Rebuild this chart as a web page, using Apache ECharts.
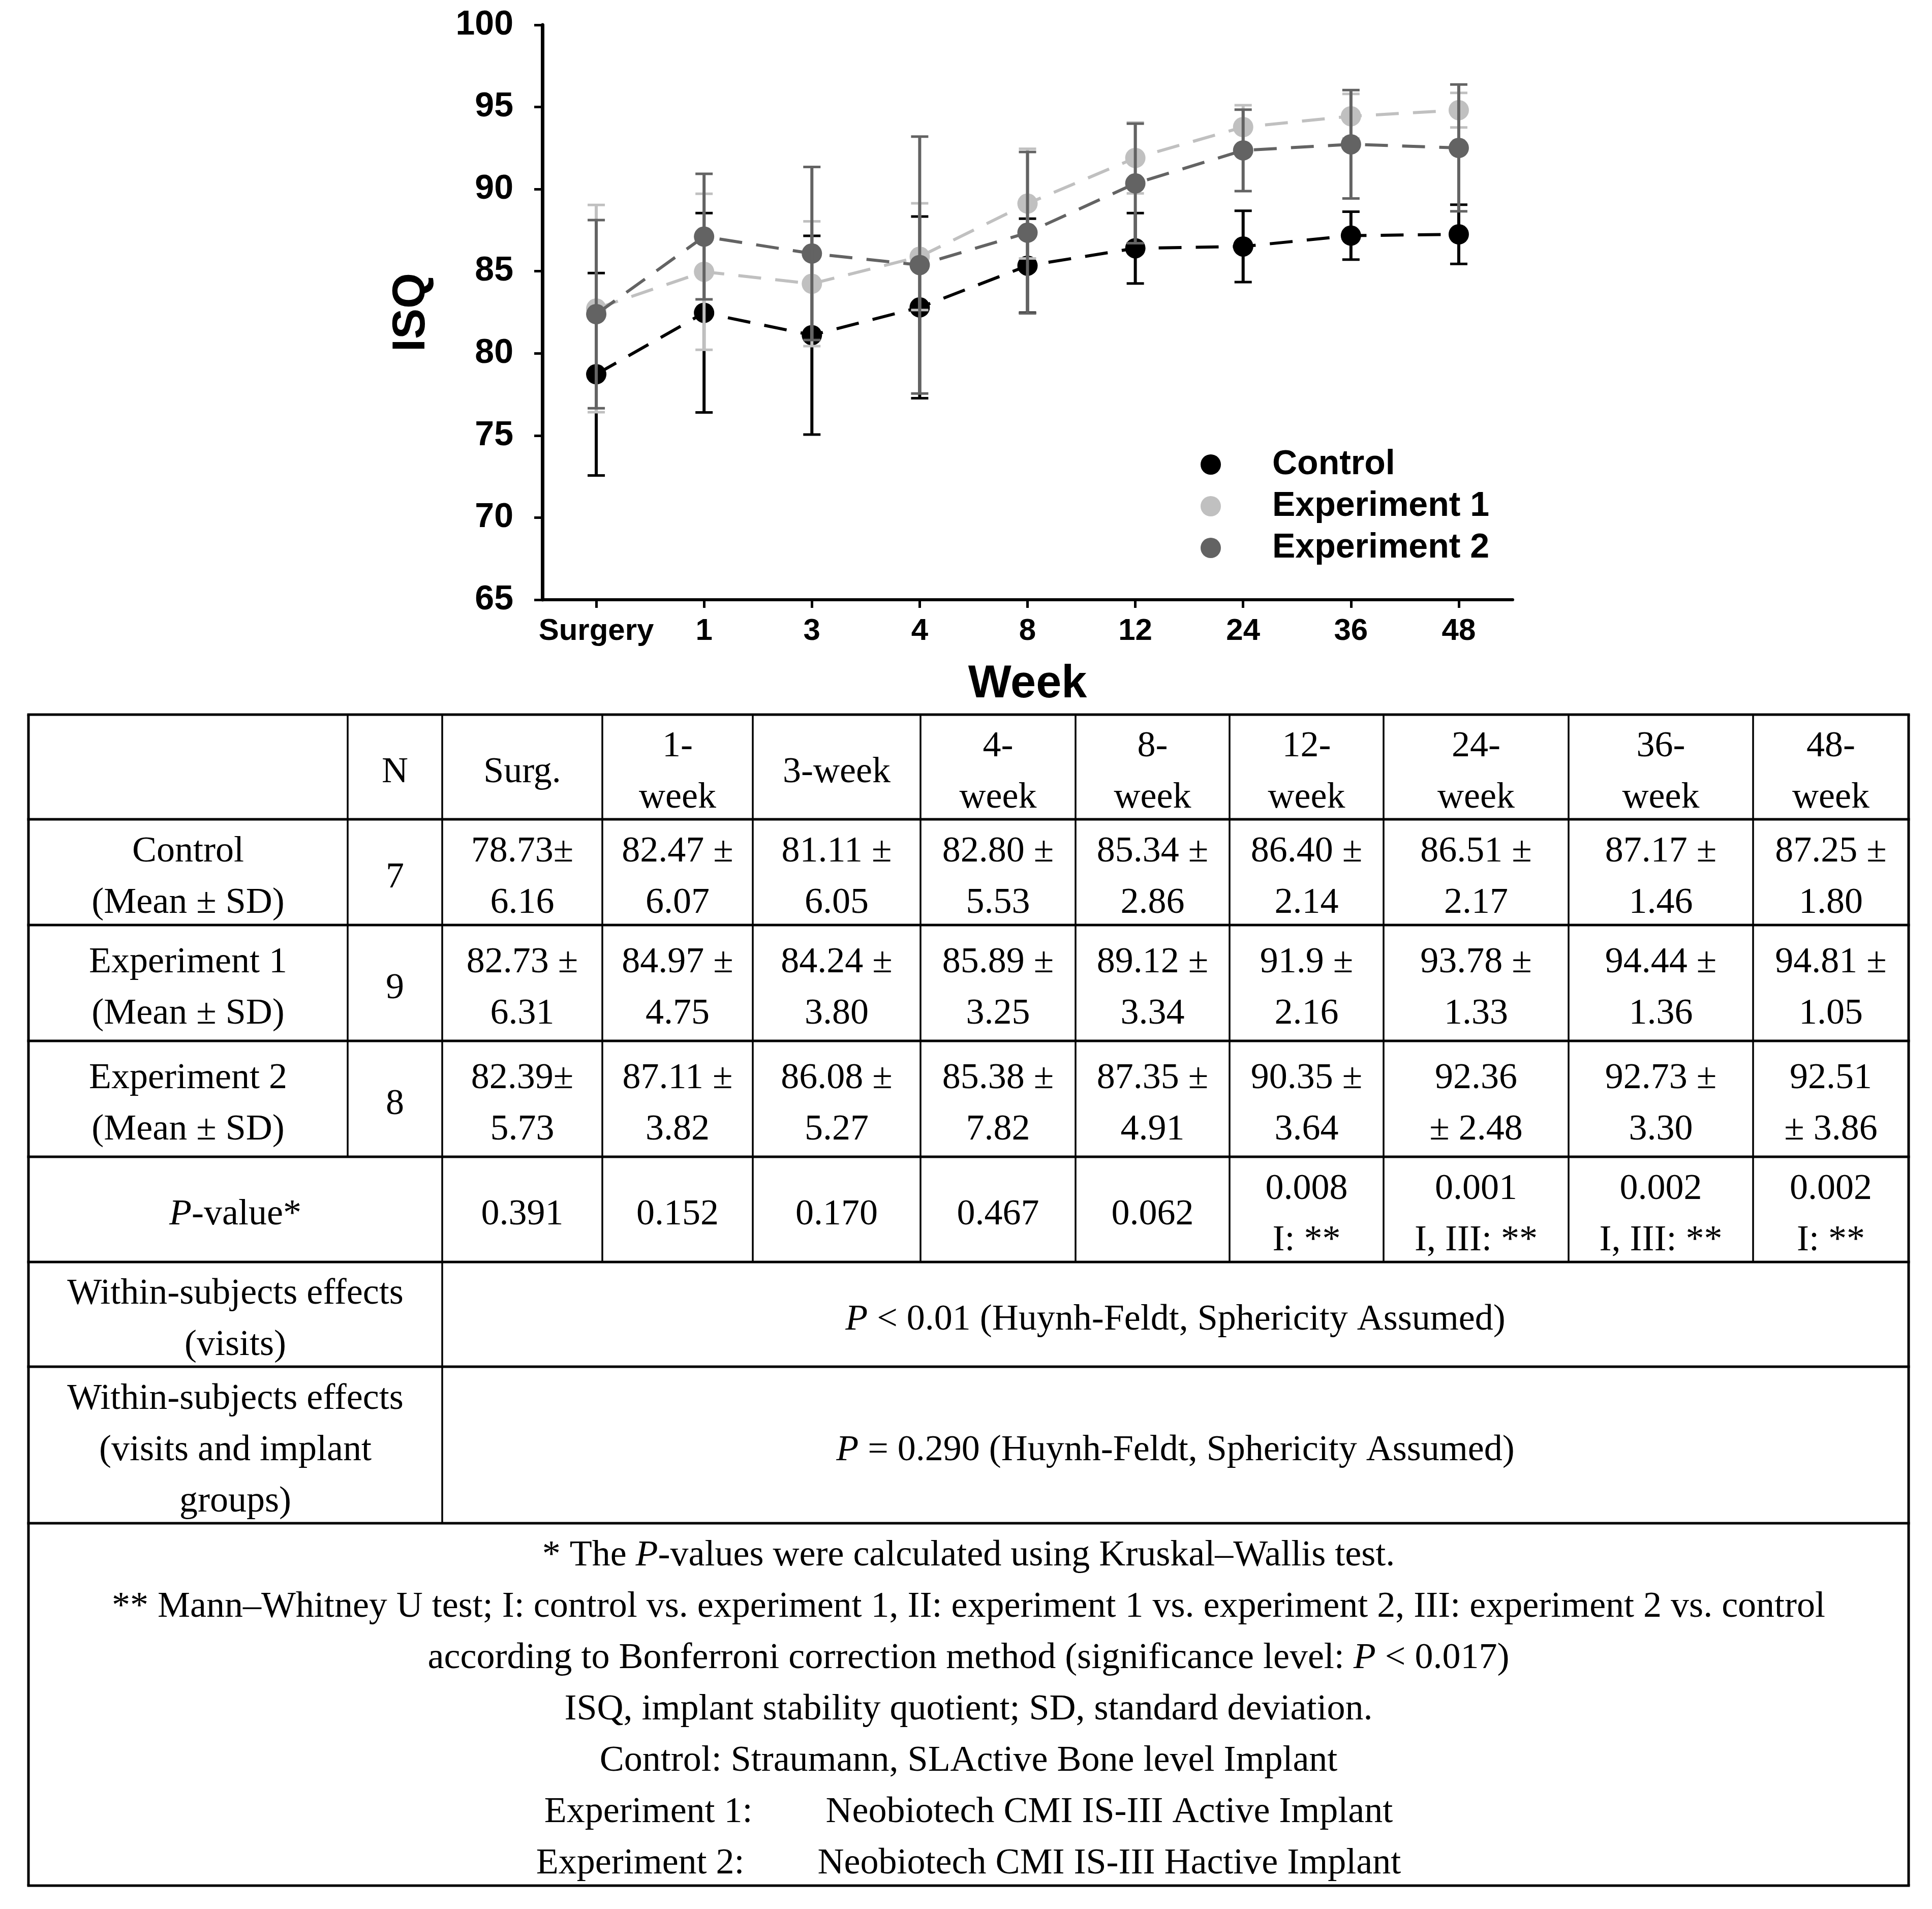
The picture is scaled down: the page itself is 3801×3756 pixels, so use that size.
<!DOCTYPE html>
<html><head><meta charset="utf-8">
<script src="https://cdn.jsdelivr.net/npm/echarts@6/dist/echarts.min.js"></script>
<style>html,body{margin:0;padding:0;background:#fff}#chart{width:3801px;height:3756px}</style>
</head><body><div id="chart"></div>
<script>
// ---------- DATA ----------
const weeks = ['Surgery', '1', '3', '4', '8', '12', '24', '36', '48'];
const seriesNames = ['Control', 'Experiment 1', 'Experiment 2'];
const controlMean = [78.73, 82.47, 81.11, 82.80, 85.34, 86.40, 86.51, 87.17, 87.25];
const controlSD   = [6.16, 6.07, 6.05, 5.53, 2.86, 2.14, 2.17, 1.46, 1.80];
const exp1Mean    = [82.73, 84.97, 84.24, 85.89, 89.12, 91.9, 93.78, 94.44, 94.81];
const exp1SD      = [6.31, 4.75, 3.80, 3.25, 3.34, 2.16, 1.33, 1.36, 1.05];
const exp2Mean    = [82.39, 87.11, 86.08, 85.38, 87.35, 90.35, 92.36, 92.73, 92.51];
const exp2SD      = [5.73, 3.82, 5.27, 7.82, 4.91, 3.64, 2.48, 3.30, 3.86];
const yMin = 65, yMax = 100, yStep = 5;

// table text
const tableHeader = ['N', 'Surg.', '1-\nweek', '3-week', '4-\nweek', '8-\nweek', '12-\nweek', '24-\nweek', '36-\nweek', '48-\nweek'];
const rowLabels = ['Control\n(Mean ± SD)', 'Experiment 1\n(Mean ± SD)', 'Experiment 2\n(Mean ± SD)'];
const groupN = ['7', '9', '8'];
const controlCells = ['78.73±\n6.16', '82.47 ±\n6.07', '81.11 ±\n6.05', '82.80 ±\n5.53', '85.34 ±\n2.86', '86.40 ±\n2.14', '86.51 ±\n2.17', '87.17 ±\n1.46', '87.25 ±\n1.80'];
const exp1Cells = ['82.73 ±\n6.31', '84.97 ±\n4.75', '84.24 ±\n3.80', '85.89 ±\n3.25', '89.12 ±\n3.34', '91.9 ±\n2.16', '93.78 ±\n1.33', '94.44 ±\n1.36', '94.81 ±\n1.05'];
const exp2Cells = ['82.39±\n5.73', '87.11 ±\n3.82', '86.08 ±\n5.27', '85.38 ±\n7.82', '87.35 ±\n4.91', '90.35 ±\n3.64', '92.36\n± 2.48', '92.73 ±\n3.30', '92.51\n± 3.86'];
const pValueLabel = '_P_-value*';
const pValueCells = ['0.391', '0.152', '0.170', '0.467', '0.062', '0.008\nI: **', '0.001\nI, III: **', '0.002\nI, III: **', '0.002\nI: **'];
const withinLabels = ['Within-subjects effects\n(visits)', 'Within-subjects effects\n(visits and implant\ngroups)'];
const withinTexts = ['_P_ < 0.01 (Huynh-Feldt, Sphericity Assumed)', '_P_ = 0.290 (Huynh-Feldt, Sphericity Assumed)'];
const footnotes = [
  '* The _P_-values were calculated using Kruskal\u2013Wallis test.',
  '** Mann\u2013Whitney U test; I: control vs. experiment 1, II: experiment 1 vs. experiment 2, III: experiment 2 vs. control',
  'according to Bonferroni correction method (significance level: _P_ < 0.017)',
  'ISQ, implant stability quotient; SD, standard deviation.',
  'Control: Straumann, SLActive Bone level Implant',
  'Experiment 1:\u2003\u2003Neobiotech CMI IS-III Active Implant',
  'Experiment 2:\u2003\u2003Neobiotech CMI IS-III Hactive Implant'
];

// ---------- LAYOUT / STYLE ----------
const colors = ['#000000', '#c0c0c0', '#636363'];
const sansFont = 'Liberation Sans, Arial, sans-serif';
const serifFont = 'Liberation Serif, Times New Roman, serif';
const colX = [56, 684, 870, 1185, 1481, 1811, 2116, 2419, 2722, 3086, 3449, 3755];
const rowY = [1406, 1612, 1820, 2048, 2276, 2483, 2689, 2997, 3710];
const tFont = 72, tLine = 101, tShift = 11;

function toRich(s) {
  return s.split('\n').map(l => '{n|' + l.replace(/_P_/g, '}{i|P}{n|') + '}').join('\n');
}
const richStyles = {
  n: { fontSize: tFont, fontFamily: serifFont, lineHeight: tLine, fill: '#000' },
  i: { fontSize: tFont, fontFamily: serifFont, fontStyle: 'italic', lineHeight: tLine, fill: '#000' }
};
function textEl(str, x, y) {
  return {
    type: 'text', x: x, y: y, silent: true,
    style: { text: toRich(str), rich: richStyles, fontSize: tFont, fontFamily: serifFont, lineHeight: tLine,
             fill: '#000', align: 'center', verticalAlign: 'middle' }
  };
}
function lineEl(x1, y1, x2, y2, w) {
  return { type: 'line', silent: true, shape: { x1: x1, y1: y1, x2: x2, y2: y2 }, style: { stroke: '#000', lineWidth: w } };
}

const g = [];
// horizontal rules
rowY.forEach(y => g.push(lineEl(colX[0] - 2.5, y, colX[11] + 2.5, y, 5)));
// outer verticals
g.push(lineEl(colX[0], rowY[0], colX[0], rowY[8], 5));
g.push(lineEl(colX[11], rowY[0], colX[11], rowY[8], 5));
// inner verticals
g.push(lineEl(colX[1], rowY[0], colX[1], rowY[4], 3.5));
g.push(lineEl(colX[2], rowY[0], colX[2], rowY[7], 3.5));
for (let c = 3; c <= 10; c++) g.push(lineEl(colX[c], rowY[0], colX[c], rowY[5], 3.5));

const rowMid = r => (rowY[r] + rowY[r + 1]) / 2 + tShift;
const colMid = c => (colX[c] + colX[c + 1]) / 2;
// header
tableHeader.forEach((h, k) => g.push(textEl(h, colMid(k + 1), rowMid(0))));
// group rows
[controlCells, exp1Cells, exp2Cells].forEach((cells, gi) => {
  const r = gi + 1;
  g.push(textEl(rowLabels[gi], colMid(0), rowMid(r)));
  g.push(textEl(groupN[gi], colMid(1), rowMid(r)));
  cells.forEach((s, k) => g.push(textEl(s, colMid(k + 2), rowMid(r))));
});
// p-value row
g.push(textEl(pValueLabel, (colX[0] + colX[2]) / 2, rowMid(4)));
pValueCells.forEach((s, k) => g.push(textEl(s, colMid(k + 2), rowMid(4))));
// within rows
withinLabels.forEach((s, k) => {
  g.push(textEl(s, (colX[0] + colX[2]) / 2, rowMid(5 + k)));
  g.push(textEl(withinTexts[k], (colX[2] + colX[11]) / 2, rowMid(5 + k)));
});
// footnotes
g.push(textEl(footnotes.join('\n'), (colX[0] + colX[11]) / 2, rowMid(7)));

// ---------- SERIES ----------
const means = [controlMean, exp1Mean, exp2Mean];
const sds = [controlSD, exp1SD, exp2SD];
const series = [];
seriesNames.forEach((name, si) => {
  series.push({
    name: name, type: 'line', data: means[si], symbol: 'circle', symbolSize: 40,
    itemStyle: { color: colors[si] },
    lineStyle: { color: colors[si], width: 6, type: [45, 28] },
    z: 2 + si * 2, emphasis: { disabled: true }, animation: false
  });
  series.push({
    name: name + ' SD', type: 'custom', silent: true, z: 3 + si * 2, animation: false,
    encode: { x: 0, y: 1 },
    data: weeks.map((w, i) => [i, means[si][i], sds[si][i]]),
    renderItem: function (params, api) {
      const x = api.value(0), m = api.value(1), sd = api.value(2);
      const top = api.coord([x, m + sd]);
      const bot = api.coord([x, m - sd]);
      const hw = 17, c = colors[si];
      return {
        type: 'group', children: [
          { type: 'line', shape: { x1: top[0], y1: top[1], x2: bot[0], y2: bot[1] }, style: { stroke: c, lineWidth: 6 } },
          { type: 'line', shape: { x1: top[0] - hw, y1: top[1], x2: top[0] + hw, y2: top[1] }, style: { stroke: c, lineWidth: 5 } },
          { type: 'line', shape: { x1: bot[0] - hw, y1: bot[1], x2: bot[0] + hw, y2: bot[1] }, style: { stroke: c, lineWidth: 5 } }
        ]
      };
    }
  });
});

const option = {
  backgroundColor: '#ffffff',
  animation: false,
  grid: { left: 1067, top: 49, width: 1909, height: 1131, containLabel: false, outerBoundsMode: 'none' },
  legend: {
    data: seriesNames, orient: 'vertical', left: 2357, top: 875,
    icon: 'circle', itemWidth: 232, itemHeight: 40, itemGap: 14, symbolKeepAspect: true,
    selectedMode: false,
    textStyle: { fontSize: 68, fontWeight: 'bold', fontFamily: sansFont, color: '#000', lineHeight: 68 }
  },
  xAxis: {
    type: 'category', data: weeks, boundaryGap: true,
    axisLine: { show: true, lineStyle: { color: '#000', width: 6 } },
    axisTick: { show: true, alignWithLabel: true, interval: 0, length: 16, lineStyle: { color: '#000', width: 5 } },
    axisLabel: { interval: 0, margin: 32, fontSize: 60, fontWeight: 'bold', fontFamily: sansFont, color: '#000' },
    splitLine: { show: false },
    name: 'Week', nameLocation: 'middle', nameGap: 122,
    nameTextStyle: { fontSize: 90, fontWeight: 'bold', fontFamily: sansFont, color: '#000' }
  },
  yAxis: {
    type: 'value', min: yMin, max: yMax, interval: yStep,
    axisLine: { show: true, lineStyle: { color: '#000', width: 7 } },
    axisTick: { show: true, length: 16, lineStyle: { color: '#000', width: 5 } },
    axisLabel: { margin: 57, fontSize: 68, fontWeight: 'bold', fontFamily: sansFont, color: '#000' },
    splitLine: { show: false },
    name: 'ISQ', nameLocation: 'middle', nameGap: 212, nameRotate: 90,
    nameTextStyle: { fontSize: 90, fontWeight: 'bold', fontFamily: sansFont, color: '#000' }
  },
  series: series,
  graphic: { elements: g }
};

const chart = echarts.init(document.getElementById('chart'), null, { renderer: 'canvas' });
chart.setOption(option);
</script></body></html>
